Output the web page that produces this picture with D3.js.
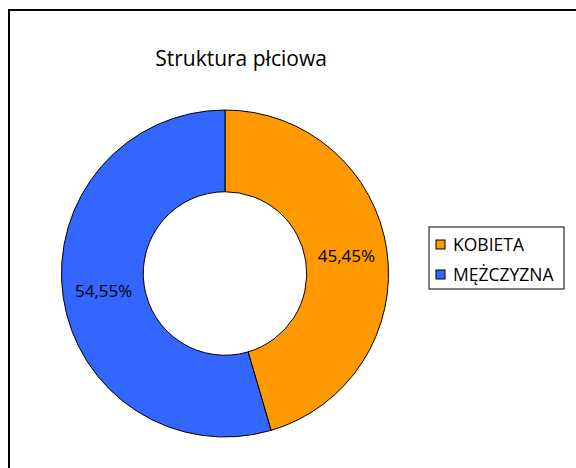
<!DOCTYPE html>
<html>

<head>
  <meta charset="utf-8">
  <style>
    body { margin: 0; background: #fff; }
    text { font-family: "Open Sans", sans-serif; fill: #000; }
  </style>
</head>

<body>
  <script src="https://d3js.org/d3.v7.min.js"></script>
  <script>
    var categories = ["KOBIETA", "MĘŻCZYZNA"];
    var values = [45.45, 54.55];
    var labels = ["45,45%", "54,55%"];
    var colors = ["#FF9900", "#3366FF"];

    var width = 576,
      height = 468,
      cx = 225,
      cy = 273.5,
      radius = 163.5;

    var svg = d3.select("body").append("svg")
      .attr("width", width)
      .attr("height", height);

    // chart frame, cut off on the right and bottom
    svg.append("path")
      .attr("d", "M9,470 L9,10 L580,10")
      .attr("fill", "none")
      .attr("stroke", "#000")
      .attr("stroke-width", 2);

    svg.append("text")
      .attr("x", 241)
      .attr("y", 66)
      .attr("text-anchor", "middle")
      .style("font-size", "21px")
      .text("Struktura płciowa");

    var data = categories.map(function(c, i) {
      return { name: c, value: values[i], label: labels[i] };
    });

    var color = d3.scaleOrdinal(categories, colors);

    var pie = d3.pie()
      .sort(null)
      .value(function(d) { return d.value; });

    var arc = d3.arc()
      .outerRadius(radius)
      .innerRadius(radius * 0.5);

    var labelArc = d3.arc()
      .outerRadius(radius * 0.75)
      .innerRadius(radius * 0.75);

    var g = svg.append("g")
      .attr("transform", "translate(" + cx + "," + cy + ")");

    var arcs = g.selectAll(".arc")
      .data(pie(data))
      .enter().append("g")
      .attr("class", "arc");

    arcs.append("path")
      .attr("d", arc)
      .attr("fill", function(d) { return color(d.data.name); })
      .attr("stroke", "#000")
      .attr("stroke-width", 1);

    arcs.append("text")
      .attr("transform", function(d) { return "translate(" + labelArc.centroid(d) + ")"; })
      .attr("text-anchor", "middle")
      .attr("dy", "0.35em")
      .style("font-size", "17px")
      .text(function(d) { return d.data.label; });

    // legend
    var legend = svg.append("g")
      .attr("transform", "translate(429,227)");

    legend.append("rect")
      .attr("width", 135)
      .attr("height", 62)
      .attr("fill", "#fff")
      .attr("stroke", "#000")
      .attr("stroke-width", 1);

    var items = legend.selectAll(".item")
      .data(categories)
      .enter().append("g")
      .attr("class", "item")
      .attr("transform", function(d, i) { return "translate(7," + (13 + i * 30) + ")"; });

    items.append("rect")
      .attr("width", 9)
      .attr("height", 9)
      .attr("fill", function(d) { return color(d); })
      .attr("stroke", "#000")
      .attr("stroke-width", 1);

    items.append("text")
      .attr("x", 17)
      .attr("y", 11)
      .style("font-size", "17.5px")
      .text(function(d) { return d; });
  </script>
</body>

</html>
